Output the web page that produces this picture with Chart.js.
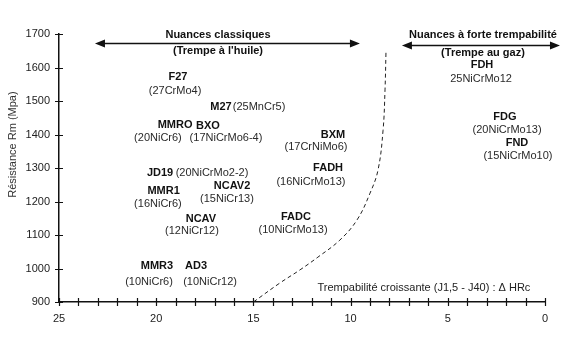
<!DOCTYPE html>
<html lang="fr">
<head>
<meta charset="UTF-8">
<title>Résistance Rm vs trempabilité</title>
<script src="https://cdn.jsdelivr.net/npm/chart.js"></script>
<style>
  body { margin: 0; background: #fff; }
</style>
</head>
<body>
<canvas id="steelChart" width="576" height="352"></canvas>
<script>
// steel grades: short name (bold) and designation, placed at (trempabilité, Rm)
const steelNames = ['F27', 'M27', 'MMRO', 'BXO', 'BXM', 'JD19', 'MMR1', 'NCAV2', 'FADH', 'NCAV', 'FADC', 'MMR3', 'AD3', 'FDH', 'FDG', 'FND'];
const steelX = [18.88, 16.67, 19.03, 17.34, 10.91, 19.80, 19.62, 16.10, 11.16, 17.70, 12.81, 19.96, 17.95, 3.24, 2.06, 1.44];
const steelY = [1572, 1482, 1428, 1425, 1399, 1285, 1231, 1246, 1300, 1148, 1154, 1007, 1007, 1607, 1452, 1375];
const gradeNames = ['(27CrMo4)', '(25MnCr5)', '(20NiCr6)', '(17NiCrMo6-4)', '(17CrNiMo6)', '(20NiCrMo2-2)', '(16NiCr6)', '(15NiCr13)', '(16NiCrMo13)', '(12NiCr12)', '(10NiCrMo13)', '(10NiCr6)', '(10NiCr12)', '25NiCrMo12', '(20NiCrMo13)', '(15NiCrMo10)'];
const gradeX = [19.03, 14.71, 19.91, 16.41, 11.78, 17.13, 19.91, 16.36, 12.04, 18.16, 12.96, 20.37, 17.23, 3.29, 1.95, 1.39];
const gradeY = [1530, 1482, 1390, 1390, 1363, 1285, 1193, 1207, 1258, 1112, 1115, 960, 960, 1566, 1413, 1336];

// dashed boundary between the two families
const curveX = [15, 13.63, 12.6, 11.68, 10.55, 9.67, 9.0, 8.59, 8.33, 8.23, 8.18];
const curveY = [900, 957, 996, 1034, 1085, 1145, 1225, 1294, 1413, 1533, 1646];

// family headers with their double arrows
const groupTitles = ['Nuances classiques', 'Nuances à forte trempabilité'];
const groupSubtitles = ['(Trempe à l\'huile)', '(Trempe au gaz)'];
const groupCenterX = [16.82, 3.19];
const groupTitleY = [1697, 1697];
const groupSubtitleY = [1650, 1644];
const arrowFrom = [23.15, 7.36];
const arrowTo = [9.52, -0.77];
const arrowY = [1673, 1667];

const xTitle = 'Trempabilité croissante (J1,5 - J40) : \u0394 HRc';
const yTitle = 'Résistance Rm (Mpa)';

const FONT = '"Liberation Sans", Arial, sans-serif';

const annotate = {
  id: 'annotate',
  afterDraw(chart) {
    const { ctx, scales: { x, y } } = chart;
    ctx.save();

    // ticks crossing both axes
    ctx.strokeStyle = '#111';
    ctx.lineWidth = 1.2;
    ctx.beginPath();
    x.ticks.forEach(t => {
      const px = Math.round(x.getPixelForValue(t.value)) + 0.5;
      ctx.moveTo(px, y.bottom - 4);
      ctx.lineTo(px, y.bottom + 4);
    });
    y.ticks.forEach(t => {
      const py = Math.round(y.getPixelForValue(t.value)) + 0.5;
      ctx.moveTo(x.left - 4, py);
      ctx.lineTo(x.left + 4, py);
    });
    ctx.stroke();

    ctx.textAlign = 'center';
    ctx.textBaseline = 'middle';

    // steel labels
    steelNames.forEach((name, i) => {
      ctx.fillStyle = '#111';
      ctx.font = 'bold 11px ' + FONT;
      ctx.fillText(name, x.getPixelForValue(steelX[i]), y.getPixelForValue(steelY[i]));
      ctx.fillStyle = '#2a2a2a';
      ctx.font = '11px ' + FONT;
      ctx.fillText(gradeNames[i], x.getPixelForValue(gradeX[i]), y.getPixelForValue(gradeY[i]));
    });

    // group headers + arrows
    groupTitles.forEach((title, i) => {
      const cx = x.getPixelForValue(groupCenterX[i]);
      ctx.fillStyle = '#111';
      ctx.font = 'bold 11px ' + FONT;
      ctx.fillText(title, cx, y.getPixelForValue(groupTitleY[i]));
      ctx.fillText(groupSubtitles[i], cx, y.getPixelForValue(groupSubtitleY[i]));

      const x1 = x.getPixelForValue(arrowFrom[i]);
      const x2 = x.getPixelForValue(arrowTo[i]);
      const ay = Math.round(y.getPixelForValue(arrowY[i])) + 0.5;
      ctx.strokeStyle = '#111';
      ctx.lineWidth = 1.3;
      ctx.beginPath();
      ctx.moveTo(x1 + 8, ay);
      ctx.lineTo(x2 - 8, ay);
      ctx.stroke();
      ctx.beginPath();
      ctx.moveTo(x1, ay);
      ctx.lineTo(x1 + 10, ay - 4);
      ctx.lineTo(x1 + 10, ay + 4);
      ctx.closePath();
      ctx.moveTo(x2, ay);
      ctx.lineTo(x2 - 10, ay - 4);
      ctx.lineTo(x2 - 10, ay + 4);
      ctx.closePath();
      ctx.fill();
    });

    // axis captions
    ctx.fillStyle = '#222';
    ctx.font = '11px ' + FONT;
    ctx.fillText(xTitle, x.getPixelForValue(6.23), y.getPixelForValue(942));

    ctx.translate(13, y.getPixelForValue(1370));
    ctx.rotate(-Math.PI / 2);
    ctx.fillStyle = '#333';
    ctx.fillText(yTitle, 0, 0);

    ctx.restore();
  }
};

new Chart(document.getElementById('steelChart'), {
  type: 'scatter',
  data: {
    datasets: [{
      data: curveX.map((v, i) => ({ x: v, y: curveY[i] })),
      showLine: true,
      borderColor: '#222',
      borderWidth: 1,
      borderDash: [4, 3],
      pointRadius: 0,
      tension: 0.4
    }]
  },
  options: {
    responsive: false,
    animation: false,
    layout: { padding: { top: 34, right: 31, left: 0, bottom: 0 } },
    plugins: {
      legend: { display: false },
      tooltip: { enabled: false }
    },
    scales: {
      x: {
        type: 'linear',
        reverse: true,
        min: 0,
        max: 25,
        afterFit: s => { s.height = 50; },
        grid: { display: false, drawTicks: false },
        border: { display: true, color: '#111', width: 1.5 },
        ticks: {
          stepSize: 1,
          autoSkip: false,
          maxRotation: 0,
          padding: 10,
          color: '#222',
          font: { family: FONT, size: 11 },
          callback: v => (v % 5 === 0 ? String(v) : '')
        }
      },
      y: {
        min: 900,
        max: 1700,
        afterFit: s => { s.width = 59; },
        grid: { display: false, drawTicks: false },
        border: { display: true, color: '#111', width: 1.5 },
        ticks: {
          stepSize: 100,
          padding: 9,
          color: '#222',
          font: { family: FONT, size: 11 },
          callback: v => String(v)
        }
      }
    }
  },
  plugins: [annotate]
});
</script>
</body>
</html>
